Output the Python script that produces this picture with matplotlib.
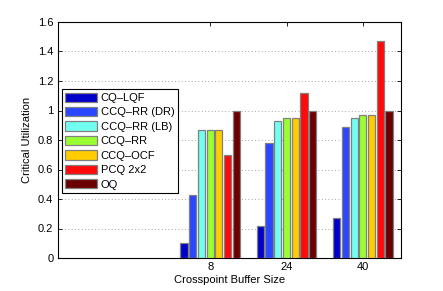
import matplotlib
matplotlib.use("Agg")
import matplotlib.pyplot as plt
import numpy as np

buffer_sizes = ["8", "24", "40"]
schemes = ["CQ\u2013LQF", "CCQ\u2013RR (DR)", "CCQ\u2013RR (LB)", "CCQ\u2013RR",
           "CCQ\u2013OCF", "PCQ 2x2", "OQ"]
utilization = [
    [0.10, 0.22, 0.27],   # CQ-LQF
    [0.43, 0.78, 0.89],   # CCQ-RR (DR)
    [0.87, 0.93, 0.95],   # CCQ-RR (LB)
    [0.87, 0.95, 0.97],   # CCQ-RR
    [0.87, 0.95, 0.97],   # CCQ-OCF
    [0.70, 1.12, 1.47],   # PCQ 2x2
    [1.00, 1.00, 1.00],   # OQ
]
colors = ["#0000c8", "#2a46ff", "#70fff0", "#99ff33", "#ffcc00", "#ff0a0a", "#6b0000"]

plt.rcParams["font.family"] = ["Liberation Sans", "DejaVu Sans"]
plt.rcParams["font.size"] = 8

fig = plt.figure(figsize=(4.43, 2.91), dpi=100)
ax = fig.add_axes([57.5 / 443, 1 - 258 / 291, (401 - 57.5) / 443, (258 - 22) / 291])

x = np.arange(1, len(buffer_sizes) + 1)
n = len(schemes)
slot = 0.8 / n
for i, (name, vals, c) in enumerate(zip(schemes, utilization, colors)):
    ax.bar(x + (i - (n - 1) / 2) * slot, vals, width=slot * 0.82, color=c,
           edgecolor="#808080", linewidth=0.9, label=name, zorder=3)

ax.set_xlim(-1, 3.5)
ax.set_ylim(0, 1.6)
ax.set_xticks(x)
ax.set_xticklabels(buffer_sizes)
ax.set_yticks(np.arange(0, 1.61, 0.2))
ax.set_yticklabels(["0", "0.2", "0.4", "0.6", "0.8", "1", "1.2", "1.4", "1.6"])
ax.yaxis.grid(True, linestyle=(0, (1, 3)), color="#888888", linewidth=0.6)
ax.tick_params(direction="in", top=True, right=True, length=3, width=0.6, pad=3)
for s in ax.spines.values():
    s.set_linewidth(0.8)
ax.set_xlabel("Crosspoint Buffer Size", labelpad=2)
ax.set_ylabel("Critical Utilization", labelpad=4)

leg = ax.legend(loc="upper left", bbox_to_anchor=(0.012, 0.715), fancybox=False,
                edgecolor="black", framealpha=1, handlelength=2.9, handleheight=0.9,
                handletextpad=0.3, labelspacing=0.36, borderpad=0.3, borderaxespad=0)
leg.get_frame().set_linewidth(0.8)

fig.savefig("out.png", dpi=100)
